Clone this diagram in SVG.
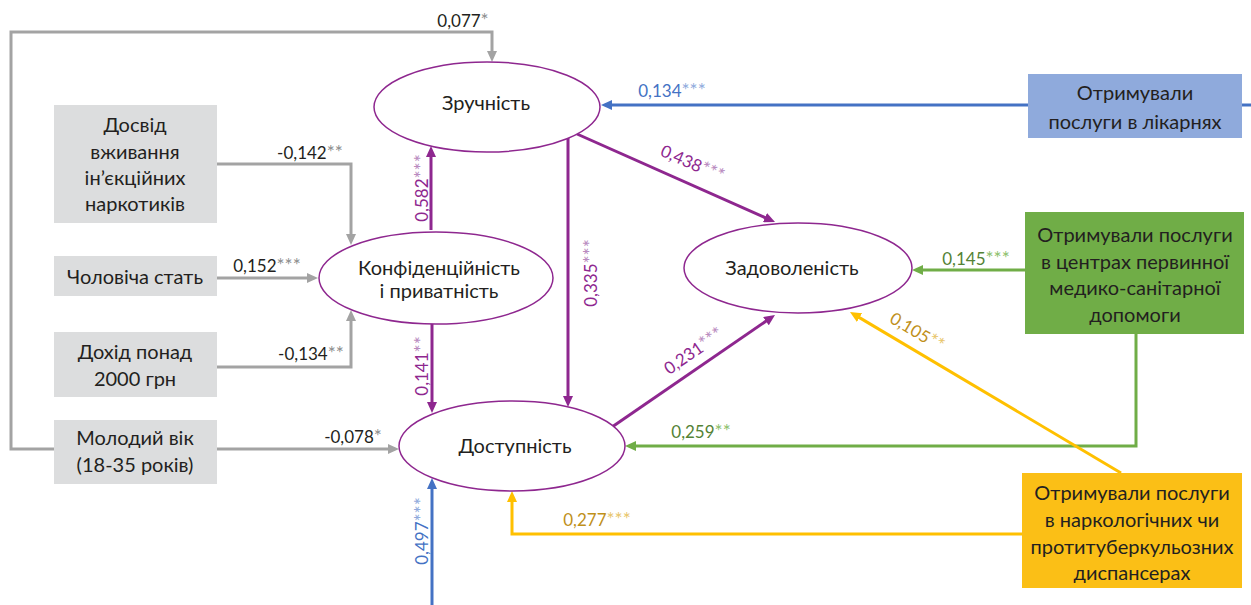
<svg xmlns="http://www.w3.org/2000/svg" width="1251" height="605" viewBox="0 0 1251 605">
<style>
.bg{fill:#ffffff}
.ell{fill:#ffffff;stroke:#8E278F;stroke-width:1.5}
.gbox{fill:#DCDDDE}
.t{font-family:Lato,"Liberation Sans",sans-serif;font-size:20px;fill:#231F20;text-anchor:middle}
.lb{font-family:Lato,"Liberation Sans",sans-serif;font-size:17px;text-anchor:middle}
.lb tspan+tspan{font-size:19px}
.ln{fill:none;stroke-width:3}
.gray{stroke:#A3A3A3}
.pur{stroke:#8E278F}
.blu{stroke:#4472C4}
.grn{stroke:#70AD47}
.yel{stroke:#FFC000}
.nk{fill:#231F20}.sk{fill:#8C8C8C}
.np{fill:#8E278F}.sp{fill:#B98BC0}
.nb{fill:#4472C4}.sb{fill:#8FAADC}
.ng{fill:#548235}.sg{fill:#8DC06B}
.ny{fill:#C0901A}.sy{fill:#E8C56A}
</style>
<defs>
<marker id="aGray" viewBox="0 0 11 10" markerWidth="11" markerHeight="10" refX="3" refY="5" orient="auto" markerUnits="userSpaceOnUse"><path d="M0,0 L11,5 L0,10 z" fill="#A3A3A3"/></marker>
<marker id="aPur" viewBox="0 0 11 10" markerWidth="11" markerHeight="10" refX="3" refY="5" orient="auto" markerUnits="userSpaceOnUse"><path d="M0,0 L11,5 L0,10 z" fill="#8E278F"/></marker>
<marker id="aBlu" viewBox="0 0 11 10" markerWidth="11" markerHeight="10" refX="3" refY="5" orient="auto" markerUnits="userSpaceOnUse"><path d="M0,0 L11,5 L0,10 z" fill="#4472C4"/></marker>
<marker id="aGrn" viewBox="0 0 11 10" markerWidth="11" markerHeight="10" refX="3" refY="5" orient="auto" markerUnits="userSpaceOnUse"><path d="M0,0 L11,5 L0,10 z" fill="#70AD47"/></marker>
<marker id="aYel" viewBox="0 0 11 10" markerWidth="11" markerHeight="10" refX="3" refY="5" orient="auto" markerUnits="userSpaceOnUse"><path d="M0,0 L11,5 L0,10 z" fill="#FFC000"/></marker>
</defs>
<rect class="bg" x="0" y="0" width="1251" height="605"/>

<g id="connectors">
<path class="ln gray" d="M54,449 H11 V32 H492 V54" marker-end="url(#aGray)"/>
<path class="ln gray" d="M217,164 H351 V237" marker-end="url(#aGray)"/>
<path class="ln gray" d="M217,278 H310" marker-end="url(#aGray)"/>
<path class="ln gray" d="M217,367 H351 V318" marker-end="url(#aGray)"/>
<path class="ln gray" d="M217,449 H391" marker-end="url(#aGray)"/>
<path class="ln pur" d="M431,230 V154" marker-end="url(#aPur)"/>
<path class="ln pur" d="M432,323 V405" marker-end="url(#aPur)"/>
<path class="ln pur" d="M568,138 V399" marker-end="url(#aPur)"/>
<path class="ln pur" d="M577,134 L767.7,218.8" marker-end="url(#aPur)"/>
<path class="ln pur" d="M612,427 L768.4,319.5" marker-end="url(#aPur)"/>
<path class="ln blu" d="M1028,105 H609" marker-end="url(#aBlu)"/>
<path class="ln blu" d="M1242,105 H1251"/>
<path class="ln blu" d="M432,605 V486" marker-end="url(#aBlu)"/>
<path class="ln grn" d="M1025,270 H920" marker-end="url(#aGrn)"/>
<path class="ln grn" d="M1136,334 V446 H633" marker-end="url(#aGrn)"/>
<path class="ln yel" d="M1121,473 L856.9,316.1" marker-end="url(#aYel)"/>
<path class="ln yel" d="M1022,534 H512 V499" marker-end="url(#aYel)"/>

<text class="lb" x="463" y="27"><tspan class="nk">0,077</tspan><tspan class="sk">*</tspan></text>
<text class="lb" x="310" y="159"><tspan class="nk">-0,142</tspan><tspan class="sk">**</tspan></text>
<text class="lb" x="267" y="272"><tspan class="nk">0,152</tspan><tspan class="sk">***</tspan></text>
<text class="lb" x="311" y="360"><tspan class="nk">-0,134</tspan><tspan class="sk">**</tspan></text>
<text class="lb" x="353" y="443"><tspan class="nk">-0,078</tspan><tspan class="sk">*</tspan></text>
<text class="lb" x="672" y="97"><tspan class="nb">0,134</tspan><tspan class="sb">***</tspan></text>
<text class="lb" x="976" y="265"><tspan class="ng">0,145</tspan><tspan class="sg">***</tspan></text>
<text class="lb" x="701" y="438"><tspan class="ng">0,259</tspan><tspan class="sg">**</tspan></text>
<text class="lb" x="597" y="526"><tspan class="ny">0,277</tspan><tspan class="sy">***</tspan></text>
<text class="lb" transform="translate(428,188) rotate(-90)" x="0" y="0"><tspan class="np">0,582</tspan><tspan class="sp">***</tspan></text>
<text class="lb" transform="translate(428,366) rotate(-90)" x="0" y="0"><tspan class="np">0,141</tspan><tspan class="sp">**</tspan></text>
<text class="lb" transform="translate(597,273) rotate(-90)" x="0" y="0"><tspan class="np">0,335</tspan><tspan class="sp">***</tspan></text>
<text class="lb" transform="translate(428,531) rotate(-90)" x="0" y="0"><tspan class="nb">0,497</tspan><tspan class="sb">***</tspan></text>
<text class="lb" transform="translate(690,169) rotate(24)" x="0" y="0"><tspan class="np">0,438</tspan><tspan class="sp">***</tspan></text>
<text class="lb" transform="translate(697,356) rotate(-34.5)" x="0" y="0"><tspan class="np">0,231</tspan><tspan class="sp">***</tspan></text>
<text class="lb" transform="translate(914,337) rotate(31)" x="0" y="0"><tspan class="ny">0,105</tspan><tspan class="sy">**</tspan></text>
</g>

<g id="zruchnist">
<ellipse class="ell" cx="487" cy="107" rx="113" ry="45"/>
<text class="t" x="486" y="110">Зручність</text>
</g>
<g id="konfidentsiinist">
<ellipse class="ell" cx="436" cy="278" rx="117" ry="46"/>
<text class="t" x="439" y="275">Конфіденційність</text>
<text class="t" x="439" y="298">і приватність</text>
</g>
<g id="zadovolenist">
<ellipse class="ell" cx="798" cy="268" rx="114" ry="45"/>
<text class="t" x="792" y="275">Задоволеність</text>
</g>
<g id="dostupnist">
<ellipse class="ell" cx="512" cy="446" rx="113" ry="45"/>
<text class="t" x="515" y="453">Доступність</text>
</g>

<g id="dosvid">
<rect class="gbox" x="54" y="105" width="163" height="118"/>
<text class="t" x="135" y="132">Досвід</text>
<text class="t" x="135" y="159">вживання</text>
<text class="t" x="135" y="185">ін’єкційних</text>
<text class="t" x="135" y="211">наркотиків</text>
</g>
<g id="cholovicha">
<rect class="gbox" x="54" y="256" width="163" height="40"/>
<text class="t" x="135" y="284">Чоловіча стать</text>
</g>
<g id="dokhid">
<rect class="gbox" x="54" y="332" width="163" height="65"/>
<text class="t" x="135" y="359">Дохід понад</text>
<text class="t" x="135" y="386">2000 грн</text>
</g>
<g id="molodyi">
<rect class="gbox" x="54" y="420" width="163" height="64"/>
<text class="t" x="135" y="445">Молодий вік</text>
<text class="t" x="135" y="472">(18-35 років)</text>
</g>

<g id="likarni">
<rect x="1028" y="74" width="214" height="64" fill="#8FAADC"/>
<text class="t" x="1135" y="100">Отримували</text>
<text class="t" x="1135" y="129">послуги в лікарнях</text>
</g>
<g id="pmsd">
<rect x="1025" y="212" width="219" height="122" fill="#70AD47"/>
<text class="t" x="1135" y="242">Отримували послуги</text>
<text class="t" x="1135" y="269">в центрах первинної</text>
<text class="t" x="1135" y="295">медико-санітарної</text>
<text class="t" x="1135" y="322">допомоги</text>
</g>
<g id="dyspansery">
<rect x="1022" y="473" width="220" height="115" fill="#FBBF16"/>
<text class="t" x="1132" y="500">Отримували послуги</text>
<text class="t" x="1132" y="527">в наркологічних чи</text>
<text class="t" x="1132" y="554">протитуберкульозних</text>
<text class="t" x="1132" y="580">диспансерах</text>
</g>
</svg>
